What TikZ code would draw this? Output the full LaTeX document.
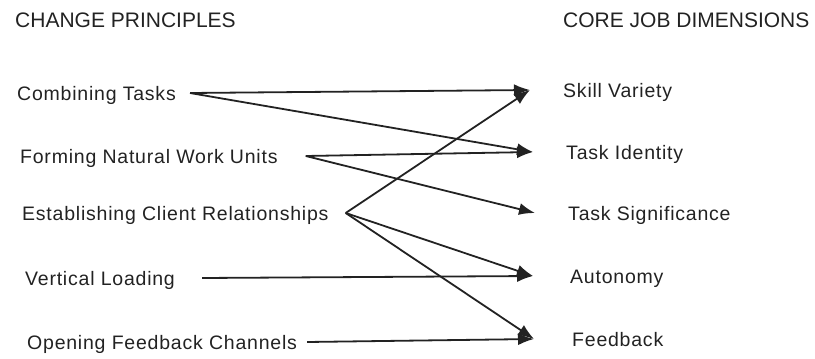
\documentclass[tikz,border=0pt]{standalone}
\usepackage{fontspec}
\setmainfont{Liberation Sans}
\usetikzlibrary{arrows.meta}
\definecolor{inkgray}{RGB}{34,34,34}

\begin{document}
\begin{tikzpicture}[
    x=1pt, y=-1pt,
    heading/.style={anchor=west, inner sep=0pt, text height=15pt, text depth=0pt, font=\fontsize{21}{24}\selectfont, text=inkgray},
    principle/.style={anchor=west, inner sep=0pt, text height=14pt, text depth=0pt, font=\fontsize{19.5}{22}\selectfont\addfontfeatures{LetterSpace=4}, text=inkgray},
    dimension/.style={principle},
    arrow/.style={-{Latex[length=16pt, width=12pt]}, line width=1.8pt, draw=inkgray}
  ]
    \useasboundingbox (0,0) rectangle (815,359);

    % column headings
    \node[heading] (principles) at (15,19.5) {CHANGE PRINCIPLES};
    \node[heading] (dimensions) at (563,19.5) {CORE JOB DIMENSIONS};

    % change principles
    \node[principle] (combining) at (17,93) {Combining Tasks};
    \node[principle] (forming) at (20,156) {Forming Natural Work Units};
    \node[principle] (client) at (22,213) {Establishing Client Relationships};
    \node[principle] (vertical) at (25,278) {Vertical Loading};
    \node[principle] (opening) at (27,342) {Opening Feedback Channels};

    % core job dimensions
    \node[dimension] (variety) at (563,90) {Skill Variety};
    \node[dimension] (identity) at (566,152) {Task Identity};
    \node[dimension] (significance) at (568,213) {Task Significance};
    \node[dimension] (autonomy) at (570,276) {Autonomy};
    \node[dimension] (feedback) at (572,339) {Feedback};

    \draw[arrow] ([xshift=14pt]combining.east) -- ([xshift=-33pt]variety.west);
    \draw[arrow] ([xshift=14pt]combining.east) -- ([xshift=-33pt]identity.west);
    \draw[arrow] ([xshift=28pt]forming.east) -- ([xshift=-33pt]identity.west);
    \draw[arrow] ([xshift=28pt]forming.east) -- ([xshift=-33pt]significance.west);
    \draw[arrow] ([xshift=17pt]client.east) -- ([xshift=-33pt]variety.west);
    \draw[arrow] ([xshift=17pt]client.east) -- ([xshift=-37pt]autonomy.west);
    \draw[arrow] ([xshift=17pt]client.east) -- ([xshift=-38pt]feedback.west);
    \draw[arrow] ([xshift=27pt]vertical.east) -- ([xshift=-37pt]autonomy.west);
    \draw[arrow] ([xshift=10pt]opening.east) -- ([xshift=-38pt]feedback.west);
  \end{tikzpicture}
\end{document}
